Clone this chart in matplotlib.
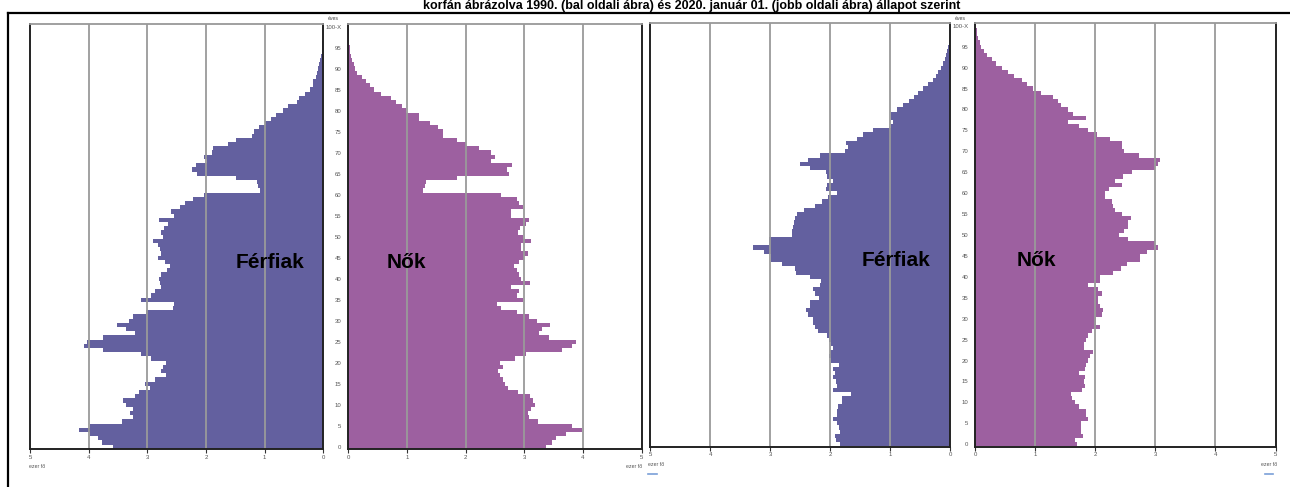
import matplotlib.pyplot as plt
from matplotlib.lines import Line2D

# korfa adatok (ezer fő), életkor 0..100
eletkor = list(range(101))

ferfi_1990 = [3.58, 3.78, 3.84, 3.98, 4.16, 3.98, 3.44, 3.24, 3.30, 3.25,
              3.36, 3.41, 3.21, 3.15, 2.95, 3.04, 2.87, 2.69, 2.76, 2.74,
              2.68, 2.93, 3.11, 3.75, 4.08, 4.03, 3.75, 3.21, 3.36, 3.51,
              3.32, 3.25, 3.02, 2.57, 2.55, 3.10, 2.93, 2.87, 2.76, 2.78,
              2.80, 2.76, 2.67, 2.61, 2.70, 2.81, 2.76, 2.78, 2.81, 2.90,
              2.73, 2.77, 2.72, 2.64, 2.80, 2.55, 2.60, 2.44, 2.36, 2.22,
              2.03, 1.08, 1.11, 1.13, 1.48, 2.15, 2.24, 2.17, 1.99, 2.03,
              1.89, 1.88, 1.62, 1.48, 1.22, 1.18, 1.10, 0.99, 0.90, 0.80,
              0.68, 0.60, 0.45, 0.41, 0.31, 0.23, 0.17, 0.17, 0.125, 0.10,
              0.09, 0.07, 0.05, 0.04, 0.03, 0.02, 0.015, 0.01, 0.005, 0.003,
              0.002]

no_1990 = [3.37, 3.47, 3.55, 3.71, 3.99, 3.81, 3.24, 3.09, 3.07, 3.11,
           3.18, 3.15, 3.10, 2.90, 2.73, 2.67, 2.63, 2.59, 2.56, 2.63,
           2.59, 2.84, 3.03, 3.64, 3.81, 3.88, 3.43, 3.26, 3.30, 3.44,
           3.22, 3.09, 2.87, 2.61, 2.53, 2.98, 2.87, 2.91, 2.78, 3.10,
           2.95, 2.91, 2.88, 2.82, 2.91, 3.00, 3.07, 2.94, 2.95, 3.11,
           2.98, 2.90, 2.93, 3.03, 3.09, 2.78, 2.78, 2.98, 2.91, 2.87,
           2.61, 1.28, 1.31, 1.32, 1.85, 2.74, 2.70, 2.80, 2.44, 2.50,
           2.44, 2.23, 2.00, 1.85, 1.61, 1.61, 1.53, 1.39, 1.21, 1.21,
           0.99, 0.91, 0.81, 0.72, 0.55, 0.44, 0.37, 0.30, 0.23, 0.15,
           0.11, 0.09, 0.06, 0.045, 0.035, 0.025, 0.018, 0.012, 0.008, 0.005,
           0.003]

ferfi_2020 = [1.83, 1.91, 1.92, 1.84, 1.85, 1.89, 1.96, 1.89, 1.88, 1.87,
              1.81, 1.81, 1.66, 1.96, 1.89, 1.91, 1.96, 1.92, 1.95, 1.85,
              1.98, 2.02, 2.01, 1.95, 1.98, 2.02, 2.06, 2.20, 2.26, 2.29,
              2.28, 2.37, 2.41, 2.33, 2.34, 2.18, 2.26, 2.28, 2.17, 2.16,
              2.33, 2.57, 2.59, 2.81, 2.98, 2.98, 3.10, 3.28, 3.02, 3.02,
              2.64, 2.63, 2.62, 2.61, 2.59, 2.55, 2.44, 2.26, 2.13, 2.03,
              1.89, 2.07, 2.06, 1.96, 2.06, 2.07, 2.33, 2.51, 2.37, 2.17,
              1.76, 1.70, 1.73, 1.56, 1.46, 1.29, 0.99, 0.95, 0.98, 0.98,
              0.89, 0.78, 0.68, 0.61, 0.53, 0.45, 0.37, 0.28, 0.24, 0.20,
              0.16, 0.12, 0.09, 0.07, 0.05, 0.03, 0.015, 0.008, 0.005, 0.003,
              0.002]

no_2020 = [1.70, 1.66, 1.79, 1.76, 1.76, 1.76, 1.88, 1.84, 1.84, 1.72,
           1.66, 1.61, 1.59, 1.77, 1.83, 1.81, 1.83, 1.72, 1.83, 1.84,
           1.87, 1.91, 1.96, 1.81, 1.81, 1.84, 1.88, 1.94, 2.08, 2.01,
           2.01, 2.11, 2.13, 2.08, 2.05, 2.05, 2.11, 2.05, 1.87, 2.07,
           2.07, 2.29, 2.42, 2.52, 2.74, 2.74, 2.86, 3.05, 2.99, 2.55,
           2.40, 2.47, 2.55, 2.55, 2.59, 2.44, 2.33, 2.30, 2.27, 2.16,
           2.16, 2.23, 2.44, 2.33, 2.46, 2.61, 2.99, 3.05, 3.08, 2.73,
           2.48, 2.44, 2.44, 2.24, 2.02, 1.88, 1.72, 1.55, 1.84, 1.63,
           1.55, 1.42, 1.38, 1.29, 1.09, 0.96, 0.86, 0.77, 0.64, 0.55,
           0.44, 0.34, 0.27, 0.19, 0.14, 0.10, 0.07, 0.05, 0.03, 0.02,
           0.01]

kor_cimkek = [str(k) for k in range(0, 100, 5)] + ['100-X']
x_ticks = [0, 1, 2, 3, 4, 5]

cim = 'korfán ábrázolva 1990. (bal oldali ábra) és 2020. január 01. (jobb oldali ábra) állapot szerint'

szin_ferfi = '#63609f'
szin_no = '#9d60a0'

W, H = 1290, 487
fig = plt.figure(figsize=(W / 100, H / 100), dpi=100)
plt.rcParams['font.family'] = ['Liberation Sans', 'DejaVu Sans']


def add_ax(x0, x1, y0, y1):
    return fig.add_axes([x0 / W, 1 - y1 / H, (x1 - x0) / W, (y1 - y0) / H])


def panel(ax, ertekek, szin, ferfi):
    ax.barh(eletkor, ertekek, height=1.0, color=szin, linewidth=0, zorder=1)
    for g in [1, 2, 3, 4]:
        ax.axvline(g, color='#9a9a9a', linewidth=1.3, zorder=2)
    ax.set_ylim(-0.6, 100.6)
    if ferfi:
        ax.set_xlim(5, 0)
        ax.set_yticks([])
    else:
        ax.set_xlim(0, 5)
        ax.set_yticks(list(range(0, 101, 5)))
        ax.set_yticklabels(kor_cimkek, fontsize=4.3, color='#555555')
        ax.tick_params(axis='y', length=0, pad=5)
    ax.set_xticks(x_ticks)
    ax.set_xticklabels([str(t) for t in x_ticks], fontsize=4.3, color='#555555')
    ax.tick_params(axis='x', length=3, width=0.8, pad=1, color='#333333')
    for s in ['left', 'right', 'bottom']:
        ax.spines[s].set_color('#222222')
        ax.spines[s].set_linewidth(1.4)
    ax.spines['top'].set_color('#999999')
    ax.spines['top'].set_linewidth(1.3)


# bal oldali korfa (1990)
ax1 = add_ax(30, 323.3, 24, 449.3)
panel(ax1, ferfi_1990, szin_ferfi, True)
ax2 = add_ax(348.3, 641.5, 24, 449.3)
panel(ax2, no_1990, szin_no, False)

# jobb oldali korfa (2020)
ax3 = add_ax(650, 950.3, 23.3, 446.7)
panel(ax3, ferfi_2020, szin_ferfi, True)
ax4 = add_ax(975.3, 1275.5, 23.3, 446.7)
panel(ax4, no_2020, szin_no, False)

# feliratok
def ftext(x, y, s, **kw):
    fig.text(x / W, 1 - y / H, s, **kw)

ftext(270, 262, 'Férfiak', ha='center', va='center', fontsize=15, fontweight='bold')
ftext(406, 262, 'Nők', ha='center', va='center', fontsize=15, fontweight='bold')
ftext(896, 260, 'Férfiak', ha='center', va='center', fontsize=15, fontweight='bold')
ftext(1036, 260, 'Nők', ha='center', va='center', fontsize=15, fontweight='bold')

ftext(333, 19, 'éves', ha='center', va='center', fontsize=3.8, color='#444444')
ftext(960, 19, 'éves', ha='center', va='center', fontsize=3.8, color='#444444')

ftext(29, 466, 'ezer fő', ha='left', va='center', fontsize=3.8, color='#555555')
ftext(642, 466, 'ezer fő', ha='right', va='center', fontsize=3.8, color='#555555')
ftext(648, 464, 'ezer fő', ha='left', va='center', fontsize=3.8, color='#555555')
ftext(1277, 464, 'ezer fő', ha='right', va='center', fontsize=3.8, color='#555555')

# cím: a keret feletti keskeny sávba kicsinyítve
ftext(692, 9.5, cim, ha='center', va='baseline', fontsize=9, fontweight='bold')

# keret
fig.add_artist(Line2D([8 / W, 1], [1 - 12.5 / H, 1 - 12.5 / H], color='black', linewidth=1.6))
fig.add_artist(Line2D([8 / W, 8 / W], [1 - 12.5 / H, 0], color='black', linewidth=1.6))
fig.add_artist(Line2D([648 / W, 657 / W], [1 - 474 / H, 1 - 474 / H], color='#7a9fd8', linewidth=1.2))
fig.add_artist(Line2D([1265 / W, 1273 / W], [1 - 474 / H, 1 - 474 / H], color='#7a9fd8', linewidth=1.2))

fig.savefig('out.png', dpi=100, facecolor='white')
